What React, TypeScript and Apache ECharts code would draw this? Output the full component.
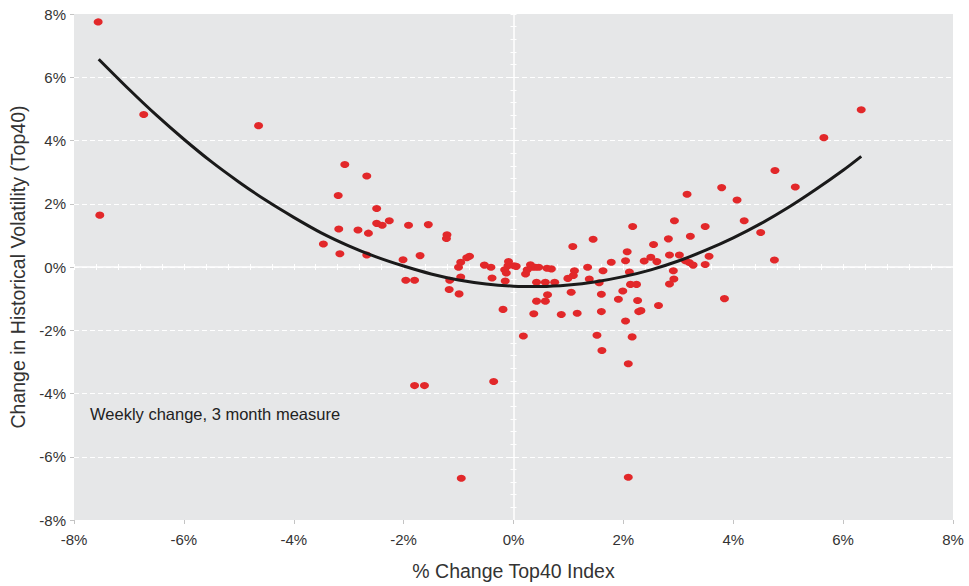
import React, { useEffect, useRef } from "react";
import * as echarts from "echarts";

// Scatter data: [% change Top40 index, change in historical volatility %]
const weeklyPoints: [number, number][] = [
  [-7.56, 7.75], [-7.53, 1.64], [-6.73, 4.82], [-4.64, 4.47],
  [-3.46, 0.73], [-3.19, 2.26], [-3.18, 1.2], [-3.16, 0.42], [-3.07, 3.24],
  [-2.83, 1.17], [-2.67, 2.88], [-2.64, 1.07], [-2.67, 0.38], [-2.49, 1.85],
  [-2.49, 1.38], [-2.39, 1.32], [-2.26, 1.46], [-2.01, 0.23], [-1.91, 1.32],
  [-1.96, -0.42], [-1.8, -0.42], [-1.8, -3.75], [-1.7, 0.36], [-1.62, -3.75],
  [-1.55, 1.34], [-1.21, 1.02], [-1.22, 0.9], [-1.16, -0.42], [-1.17, -0.71],
  [-1.0, -0.01], [-0.96, 0.15], [-0.96, -0.32], [-0.99, -0.85], [-0.95, -6.68],
  [-0.85, 0.29], [-0.8, 0.34], [-0.53, 0.06], [-0.41, -0.01], [-0.39, -0.35],
  [-0.36, -3.62], [-0.19, -1.34], [-0.16, -0.09], [-0.13, -0.19], [-0.15, -0.44],
  [-0.1, 0.04], [-0.09, 0.17], [0.01, 0.04], [0.05, 0.02], [0.18, -2.18],
  [0.22, -0.22], [0.25, -0.09], [0.31, 0.07], [0.34, -0.01], [0.4, -0.01],
  [0.46, -0.01], [0.42, -0.48], [0.42, -1.08], [0.37, -1.48], [0.58, -0.48],
  [0.58, -1.08], [0.61, -0.04], [0.69, -0.06], [0.62, -0.88], [0.75, -0.48],
  [0.87, -1.5], [0.99, -0.36], [1.05, -0.8], [1.08, 0.65], [1.11, -0.12],
  [1.09, -0.27], [1.16, -1.46], [1.35, -0.01], [1.38, -0.38], [1.45, 0.88],
  [1.56, -0.5], [1.6, -0.86], [1.6, -1.41], [1.63, -0.12], [1.52, -2.16],
  [1.61, -2.64], [1.78, 0.15], [1.91, -1.02], [1.99, -0.76], [2.04, 0.2],
  [2.07, 0.48], [2.11, -0.16], [2.13, -0.55], [2.24, -0.55], [2.26, -1.06],
  [2.28, -1.41], [2.32, -1.38], [2.04, -1.71], [2.16, -2.21], [2.09, -3.06],
  [2.09, -6.65], [2.17, 1.28], [2.38, 0.19], [2.5, 0.31], [2.55, 0.71],
  [2.61, 0.17], [2.64, -1.22], [2.82, 0.89], [2.84, 0.38], [2.91, -0.12],
  [2.92, -0.38], [2.84, -0.54], [2.93, 1.46], [3.02, 0.38], [3.13, 0.2],
  [3.2, 0.14], [3.27, 0.06], [3.22, 0.97], [3.16, 2.3], [3.49, 1.28],
  [3.49, 0.08], [3.56, 0.34], [3.84, -1.0], [3.79, 2.51], [4.07, 2.12],
  [4.2, 1.46], [4.5, 1.09], [4.75, 0.22], [4.76, 3.05], [5.13, 2.53],
  [5.65, 4.09], [6.33, 4.97],
];

// Trend curve
const trendX = [-7.55, -7, -6.5, -6, -5.5, -5, -4.5, -4, -3.5, -3, -2.5, -2, -1.5, -1, -0.5, 0, 0.5, 1, 1.5, 2, 2.5, 3, 3.5, 4, 4.5, 5, 5.5, 6, 6.33];
const trendY = [6.57, 5.62, 4.8, 4.04, 3.33, 2.69, 2.1, 1.57, 1.08, 0.67, 0.32, 0.03, -0.22, -0.41, -0.535, -0.605, -0.617, -0.57, -0.465, -0.305, -0.09, 0.19, 0.53, 0.92, 1.37, 1.88, 2.45, 3.06, 3.5];

const axisMin = -8;
const axisMax = 8;
const majorStep = 2;
const minorStep = 0.4;

const xTitle = "% Change Top40 Index";
const yTitle = "Change in Historical Volatility (Top40)";
const note = "Weekly change, 3 month measure";

const FONT = "'Liberation Sans', Arial, Helvetica, sans-serif";

export default function App() {
  const ref = useRef<HTMLDivElement>(null);

  useEffect(() => {
    if (!ref.current) return;
    const chart = echarts.init(ref.current, undefined, { renderer: "svg" });
    const pct = (v: number) => `${v}%`;

    const zeroAxis = (inside: boolean, showLine: boolean) => ({
      type: "value",
      min: axisMin,
      max: axisMax,
      interval: minorStep,
      axisLine: {
        show: showLine,
        onZero: true,
        onZeroAxisIndex: 0,
        lineStyle: { color: "#ffffff", width: 1.5 },
      },
      axisTick: { show: true, inside, length: 3, lineStyle: { color: "#ffffff", width: 1 } },
      axisLabel: { show: false },
      splitLine: { show: false },
    });

    const trendData = trendX.map((x, i) => [x, trendY[i]]);

    chart.setOption({
      animation: false,
      textStyle: { fontFamily: FONT },
      grid: {
        left: 73,
        right: 16,
        top: 14,
        bottom: 64,
        show: true,
        backgroundColor: "#e6e7e8",
        borderWidth: 0,
      },
      xAxis: [
        {
          type: "value",
          min: axisMin,
          max: axisMax,
          interval: majorStep,
          position: "bottom",
          axisLine: { show: false, onZero: false },
          axisTick: { show: true, length: 4, lineStyle: { color: "#c4c4c4" } },
          axisLabel: { formatter: pct, fontSize: 15, color: "#333", margin: 12, fontFamily: FONT },
          splitLine: { show: false },
          name: xTitle,
          nameLocation: "middle",
          nameGap: 41,
          nameTextStyle: { fontSize: 19.5, color: "#333", fontFamily: FONT },
        },
        zeroAxis(true, true),
        zeroAxis(false, false),
      ],
      yAxis: [
        {
          type: "value",
          min: axisMin,
          max: axisMax,
          interval: majorStep,
          position: "left",
          axisLine: { show: false, onZero: false },
          axisTick: { show: true, length: 4, lineStyle: { color: "#c4c4c4" } },
          axisLabel: { formatter: pct, fontSize: 15, color: "#333", margin: 8, fontFamily: FONT },
          splitLine: {
            show: true,
            showMinLine: false,
            showMaxLine: false,
            lineStyle: { color: "#ffffff", width: 1, type: [5, 3] },
          },
          name: yTitle,
          nameLocation: "middle",
          nameGap: 46,
          nameTextStyle: { fontSize: 19.5, color: "#333", fontFamily: FONT },
        },
        zeroAxis(true, true),
        zeroAxis(false, false),
      ],
      graphic: [
        {
          type: "text",
          left: 90,
          top: 405,
          style: { text: note, fontSize: 16.5, fill: "#222", fontFamily: FONT },
          z: 10,
        },
      ],
      series: [
        {
          type: "scatter",
          xAxisIndex: 0,
          yAxisIndex: 0,
          data: weeklyPoints,
          symbol: "circle",
          symbolSize: [9, 7],
          itemStyle: { color: "#e2282a", opacity: 1 },
          z: 3,
        },
        {
          type: "line",
          xAxisIndex: 0,
          yAxisIndex: 0,
          data: trendData,
          smooth: 0.3,
          showSymbol: false,
          symbol: "none",
          lineStyle: { color: "#1a1a1a", width: 3 },
          z: 4,
        },
      ],
    });

    return () => chart.dispose();
  }, []);

  return (
    <div
      ref={ref}
      style={{ position: "absolute", left: 0, top: 0, width: 969, height: 586 }}
    />
  );
}
